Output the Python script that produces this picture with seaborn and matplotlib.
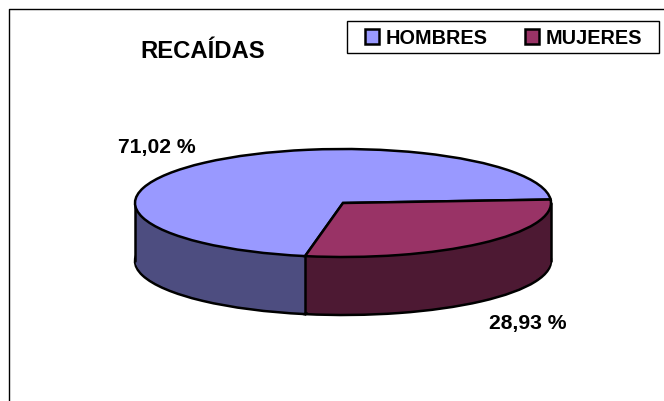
import numpy as np
import matplotlib
matplotlib.use("Agg")
import matplotlib.pyplot as plt
from matplotlib.lines import Line2D
from matplotlib.patches import Rectangle
import seaborn as sns

categories = ["HOMBRES", "MUJERES"]
values = [71.02, 28.93]
value_labels = ["71,02 %", "28,93 %"]
title = "RECAÍDAS"
top_colors = sns.color_palette(["#9999FF", "#993366"])
side_colors = sns.color_palette(["#4D4D80", "#4D1933"])

sns.set_theme(style="white")
plt.rcParams["font.family"] = ["Liberation Sans", "DejaVu Sans"]
plt.rcParams["font.weight"] = "bold"

W, H = 664, 401
CX, CY, RX, RY, DEPTH = 343.0, 203.0, 208.0, 54.0, 58.0
START = 3.7
LW = 1.8

fig = plt.figure(figsize=(W / 100, H / 100), dpi=100, facecolor="white")
ax = fig.add_axes([0, 0, 1, 1])

d = DEPTH / RY
edge = dict(edgecolor="black", linewidth=LW)
ax.pie(values, colors=side_colors, startangle=START, center=(0, -d),
       wedgeprops=edge, normalize=True)
for off in np.arange(DEPTH - 2, 0, -1) / RY:
    ax.pie(values, colors=side_colors, startangle=START, center=(0, -off),
           wedgeprops=dict(linewidth=0), normalize=True)

seam = np.deg2rad(START + 360 * values[0] / sum(values))
for px, py in [(-1, 0), (1, 0), (np.cos(seam), np.sin(seam))]:
    ax.plot([px, px], [py, py - d], color="black", lw=LW, solid_capstyle="round", zorder=1.5)

wedges, _ = ax.pie(values, colors=top_colors, startangle=START,
                   wedgeprops=edge, normalize=True)
for w in wedges:
    w.set_zorder(2)

ax.set_aspect("auto")
ax.set_xlim((0 - CX) / RX, (W - CX) / RX)
ax.set_ylim((CY - H) / RY, CY / RY)
ax.axis("off")

def fx(x):
    return x / W
def fy(y):
    return 1 - y / H

fig.add_artist(Line2D([fx(W), fx(9), fx(9)], [fy(9), fy(9), fy(H)], color="black", lw=1.0))

fig.text(fx(203), fy(51), title, ha="center", va="center", fontsize=17.2, fontweight="bold", color="black")
fig.text(fx(157), fy(148), value_labels[0], ha="center", va="center", fontsize=15.2, fontweight="bold", color="black")
fig.text(fx(528), fy(324), value_labels[1], ha="center", va="center", fontsize=15.2, fontweight="bold", color="black")

ax.add_patch(Rectangle((fx(346.5), fy(53)), (659 - 346.5) / W, (53 - 21) / H, transform=fig.transFigure,
                       facecolor="white", edgecolor="black", linewidth=1.0, zorder=4, clip_on=False))
leg = ax.legend(wedges, categories, ncols=2, loc="center",
                bbox_to_anchor=(fx(503.5), fy(38)), bbox_transform=fig.transFigure,
                frameon=False, labelcolor="black",
                handlelength=0.72, handleheight=0.72, handletextpad=0.3,
                columnspacing=1.9, borderpad=0, borderaxespad=0,
                prop=dict(family="Liberation Sans", weight="bold", size=14.3))
leg.set_zorder(5)

fig.savefig("out.png", dpi=100)
